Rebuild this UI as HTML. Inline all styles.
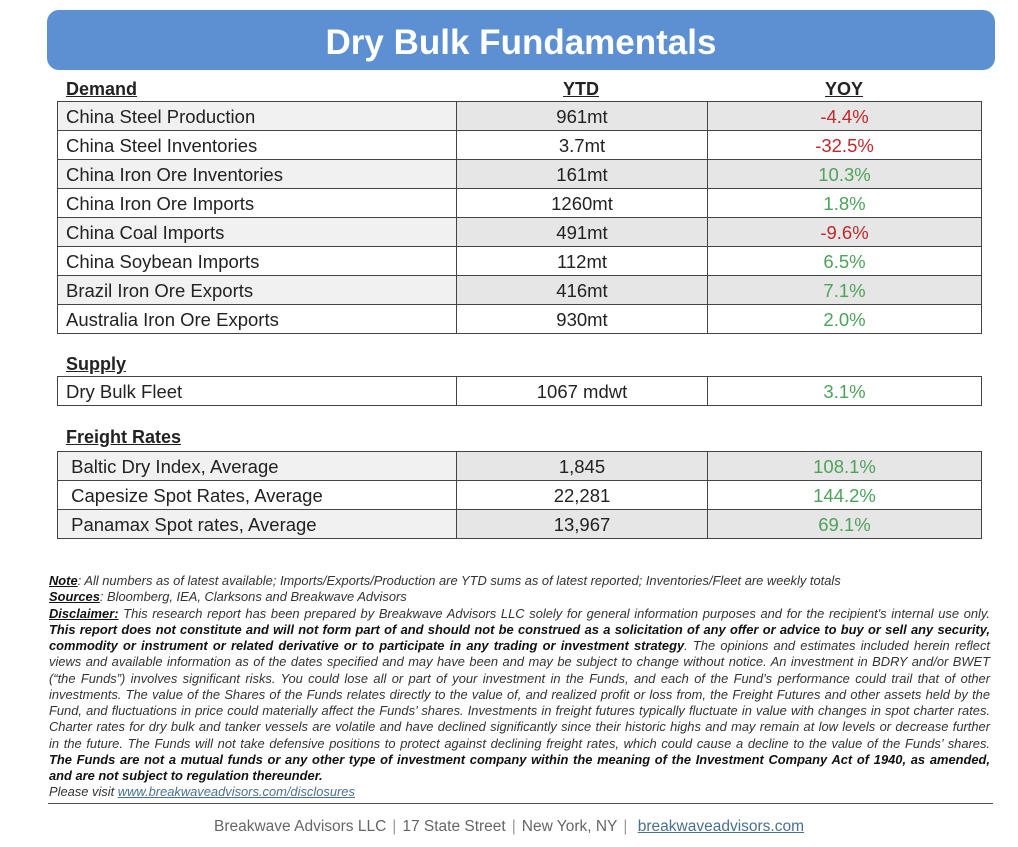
<!DOCTYPE html>
<html><head><meta charset="utf-8"><style>
*{margin:0;padding:0;box-sizing:border-box}
body{width:1018px;height:847px;background:#fff;position:relative;font-family:"Liberation Sans",sans-serif;color:#222;overflow:hidden}
.bar{position:absolute;left:47px;top:10px;width:948px;height:60px;background:#5d90d2;border-radius:12px;color:#fff;font-weight:bold;font-size:35px;text-align:center;line-height:66px}
.h{position:absolute;font-size:18px;font-weight:bold;text-decoration:underline;color:#222}
table{position:absolute;left:57px;border-collapse:collapse;font-size:18.5px}
td{border:1px solid #444;height:29px;padding:0;vertical-align:middle;line-height:27px}
td.a{width:399px;padding-left:8px}
td.b{width:251px;text-align:center}
td.c{width:274px;text-align:center}
tr.g td.a{background:#f1f1f1}
tr.g td.b,tr.g td.c{background:#e6e6e6}
.r{color:#c0282b}.gr{color:#4ea25a}
.disc{position:absolute;left:49px;top:573px;width:941px;font-size:12.9px;line-height:16.25px;font-style:italic;color:#333}
.disc div{white-space:nowrap}
.disc .j{text-align:justify;text-align-last:justify;white-space:normal}
.disc b{font-weight:bold;color:#111}
.disc u{text-decoration:underline}
.disc a{color:#4a7090;text-decoration:underline}
.line{position:absolute;left:48px;top:803px;width:945px;height:1px;background:#555}
.foot{position:absolute;left:0;width:1018px;top:818px;text-align:center;font-size:15.5px;color:#666}
.foot span.s{color:#999;margin:0 6px}
.foot a{color:#4a7090;text-decoration:underline}
</style></head><body>
<div class="bar">Dry Bulk Fundamentals</div>
<div class="h" style="left:66px;top:79px">Demand</div>
<div class="h" style="left:563px;top:79px">YTD</div>
<div class="h" style="left:825px;top:79px">YOY</div>
<table style="top:101px">
<tr class="g"><td class="a">China Steel Production</td><td class="b">961mt</td><td class="c r">-4.4%</td></tr>
<tr><td class="a">China Steel Inventories</td><td class="b">3.7mt</td><td class="c r">-32.5%</td></tr>
<tr class="g"><td class="a">China Iron Ore Inventories</td><td class="b">161mt</td><td class="c gr">10.3%</td></tr>
<tr><td class="a">China Iron Ore Imports</td><td class="b">1260mt</td><td class="c gr">1.8%</td></tr>
<tr class="g"><td class="a">China Coal Imports</td><td class="b">491mt</td><td class="c r">-9.6%</td></tr>
<tr><td class="a">China Soybean Imports</td><td class="b">112mt</td><td class="c gr">6.5%</td></tr>
<tr class="g"><td class="a">Brazil Iron Ore Exports</td><td class="b">416mt</td><td class="c gr">7.1%</td></tr>
<tr><td class="a">Australia Iron Ore Exports</td><td class="b">930mt</td><td class="c gr">2.0%</td></tr>
</table>
<div class="h" style="left:66px;top:354px">Supply</div>
<table style="top:376px">
<tr><td class="a">Dry Bulk Fleet</td><td class="b">1067 mdwt</td><td class="c gr">3.1%</td></tr>
</table>
<div class="h" style="left:66px;top:427px">Freight Rates</div>
<table style="top:451px">
<tr class="g"><td class="a">&nbsp;Baltic Dry Index, Average</td><td class="b">1,845</td><td class="c gr">108.1%</td></tr>
<tr><td class="a">&nbsp;Capesize Spot Rates, Average</td><td class="b">22,281</td><td class="c gr">144.2%</td></tr>
<tr class="g"><td class="a">&nbsp;Panamax Spot rates, Average</td><td class="b">13,967</td><td class="c gr">69.1%</td></tr>
</table>
<div class="disc">
<div><b><u>Note</u></b>: All numbers as of latest available; Imports/Exports/Production are YTD sums as of latest reported; Inventories/Fleet are weekly totals</div>
<div><b><u>Sources</u></b>: Bloomberg, IEA, Clarksons and Breakwave Advisors</div>
<div class="j"><b><u>Disclaimer:</u></b> This research report has been prepared by Breakwave Advisors LLC solely for general information purposes and for the recipient's internal use only.</div>
<div class="j"><b>This report does not constitute and will not form part of and should not be construed as a solicitation of any offer or advice to buy or sell any security,</b></div>
<div class="j"><b>commodity or instrument or related derivative or to participate in any trading or investment strategy</b>. The opinions and estimates included herein reflect</div>
<div class="j">views and available information as of the dates specified and may have been and may be subject to change without notice. An investment in BDRY and/or BWET</div>
<div class="j">(“the Funds”) involves significant risks. You could lose all or part of your investment in the Funds, and each of the Fund’s performance could trail that of other</div>
<div class="j">investments. The value of the Shares of the Funds relates directly to the value of, and realized profit or loss from, the Freight Futures and other assets held by the</div>
<div class="j">Fund, and fluctuations in price could materially affect the Funds’ shares. Investments in freight futures typically fluctuate in value with changes in spot charter rates.</div>
<div class="j">Charter rates for dry bulk and tanker vessels are volatile and have declined significantly since their historic highs and may remain at low levels or decrease further</div>
<div class="j">in the future. The Funds will not take defensive positions to protect against declining freight rates, which could cause a decline to the value of the Funds’ shares.</div>
<div class="j"><b>The Funds are not a mutual funds or any other type of investment company within the meaning of the Investment Company Act of 1940, as amended,</b></div>
<div><b>and are not subject to regulation thereunder.</b></div>
<div>Please visit <a>www.breakwaveadvisors.com/disclosures</a></div>
</div>
<div class="line"></div>
<div class="foot">Breakwave Advisors LLC<span class="s">|</span>17 State Street<span class="s">|</span>New York, NY<span class="s">|</span> <a>breakwaveadvisors.com</a></div>
</body></html>
